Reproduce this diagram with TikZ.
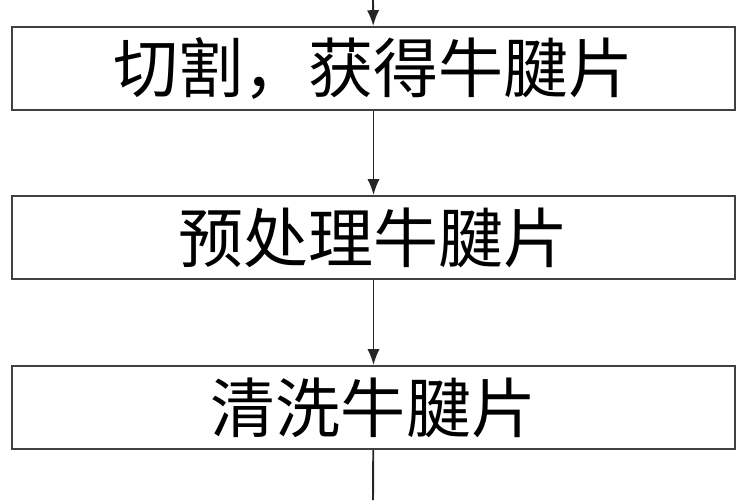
\documentclass[tikz,border=0pt]{standalone}
\usepackage{fontspec}
\usetikzlibrary{arrows.meta}
\newfontfamily\cjk{Noto Sans CJK SC}
\begin{document}
\begin{tikzpicture}
  [x=0.02cm,y=-0.02cm,every node/.style={font=\cjk\fontsize{37}{40}\selectfont}]
  \tikzstyle{stepbox} = [draw=black!75,line width=1.1pt,shape=rectangle,minimum width=14.46cm,minimum height=1.66cm,inner sep=0pt]
  \tikzstyle{flow} = [draw=black!85,line width=1.1pt,-{Latex[length=9pt,width=7pt]}]
  \useasboundingbox (0,0) rectangle (750,500);
  \coordinate (top) at (373,0);
  \coordinate (bot) at (373,500);
  \node[stepbox] (cut)   at (373.5,68.5)  {切割，获得牛腱片};
  \node[stepbox] (prep)  at (373.5,237.5) {预处理牛腱片};
  \node[stepbox] (wash)  at (373.5,407.5) {清洗牛腱片};
  \foreach \source /\dest in {top/cut,cut/prep,prep/wash}
   \draw[flow] (\source) -- (\dest);
  \draw[draw=black!85,line width=1.1pt] (wash) -- (bot);
\end{tikzpicture}
\end{document}
